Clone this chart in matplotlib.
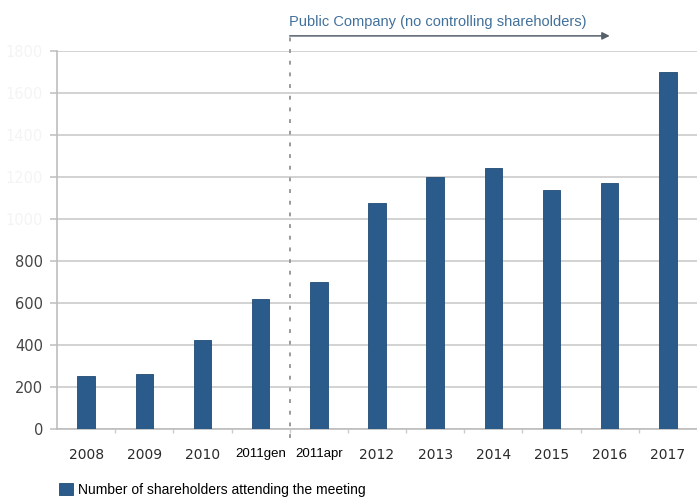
import matplotlib
matplotlib.use("Agg")
import matplotlib.pyplot as plt
import numpy as np

# data
categories = ['2008', '2009', '2010', '2011gen', '2011apr', '2012',
              '2013', '2014', '2015', '2016', '2017']
attendees = [252, 262, 424, 619, 699, 1078, 1201, 1243, 1138, 1173, 1699]
y_ticks = [0, 200, 400, 600, 800, 1000, 1200, 1400, 1600, 1800]
series_label = 'Number of shareholders attending the meeting'
span_label = 'Public Company (no controlling shareholders)'
split_at = 3.5      # between 2011gen and 2011apr
span_end = 9.0

bar_color = '#2b5b8a'
grid_color = '#cfcfcf'

fig = plt.figure(figsize=(6.97, 4.98), dpi=100)
ax = fig.add_axes([57 / 697, 1 - 429 / 498, 640 / 697, 378 / 498])

x = np.arange(len(categories))
bars = ax.bar(x, attendees, width=0.3, color=bar_color,
              edgecolor='#214a73', linewidth=0.6, zorder=3,
              label=series_label)

ax.set_xlim(-0.5, 10.5)
ax.set_ylim(0, 1800)

# gridlines + axes styling
ax.set_yticks(y_ticks)
ax.yaxis.grid(True, color=grid_color, linewidth=1.3, zorder=0)
for side in ['top', 'right']:
    ax.spines[side].set_visible(False)
for side in ['left', 'bottom']:
    ax.spines[side].set_color('#bdbdbd')
    ax.spines[side].set_linewidth(1.2)

ax.tick_params(axis='y', length=5, width=1.2, color='#c4c4c4', pad=5,
               labelsize=10.5, labelcolor='#444444')
# labels above 800 are faded out in the original
for val, lab in zip(y_ticks, ax.get_yticklabels()):
    if val > 800:
        lab.set_color('#f4f4f4')

ax.set_xticks(x)
ax.set_xticklabels(categories)
ax.tick_params(axis='x', length=0, pad=14, labelsize=10, labelcolor='#2b2b2b')
ax.set_xticks(x[:-1] + 0.5, minor=True)
ax.tick_params(axis='x', which='minor', length=3, width=1, color='#cccccc')
for lab in ax.get_xticklabels():
    if not lab.get_text().isdigit():
        lab.set_family('Liberation Sans')
        lab.set_fontsize(9.5)
        lab.set_color('black')

# dashed split line and the "public company" arrow
ax.plot([split_at, split_at], [-45, 1872], color='#9a9a9a', linewidth=1.4,
        linestyle=(0, (2, 4)), clip_on=False, zorder=4)
ax.annotate('', xy=(span_end, 1872), xytext=(split_at, 1872),
            arrowprops=dict(arrowstyle='-|>', color='#56606b', lw=1.1,
                            mutation_scale=11, shrinkA=0, shrinkB=0),
            annotation_clip=False)
ax.text(split_at - 0.02, 1940, span_label, ha='left', va='center',
        fontsize=10.5, color='#41709b', family='Liberation Sans',
        clip_on=False)

fig.legend(handles=[bars], labels=[series_label], loc='lower left',
           bbox_to_anchor=(58 / 697, 0.0), frameon=False,
           prop={'family': 'Liberation Sans', 'size': 10},
           handlelength=0.95, handleheight=0.95, handletextpad=0.4,
           borderaxespad=0.0, borderpad=0.1)

plt.savefig('out.png', dpi=100)
